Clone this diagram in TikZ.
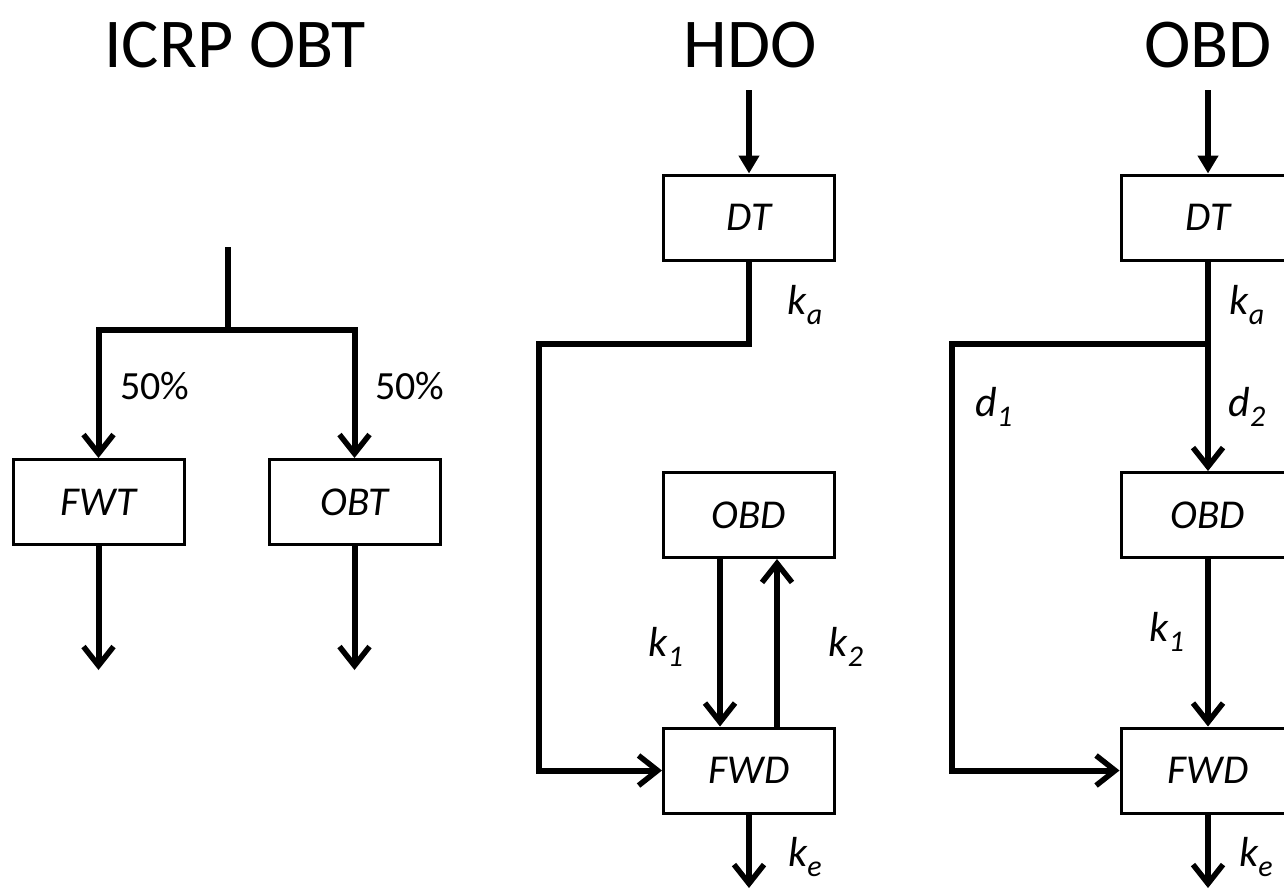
\documentclass[tikz,border=0pt]{standalone}
\usepackage{fontspec}
\setmainfont{Carlito}
\usetikzlibrary{arrows.meta}
\newcommand\mysb[1]{\raisebox{-0.22em}{\fontsize{30}{30}\selectfont #1}}
\begin{document}
\begin{tikzpicture}[x=1pt,y=-1pt,
  box/.style={draw,line width=3pt,minimum width=171pt,minimum height=85pt,inner sep=0pt,font=\fontsize{41}{43}\selectfont\itshape},
  flow/.style={line width=6pt,line join=miter,-{Straight Barb[length=19pt,width=30pt,line width=5.5pt]}},
  feed/.style={line width=6pt,-{Triangle[length=18pt,width=20pt]}},
  wire/.style={line width=6pt,line join=miter},
  lab/.style={font=\fontsize{42}{44}\selectfont\itshape,inner sep=0pt},
  pct/.style={font=\fontsize{40}{42}\selectfont,inner sep=0pt},
  ttl/.style={font=\fontsize{70}{72}\selectfont,inner sep=0pt}]
\useasboundingbox (0,0) rectangle (1284,894);
% titles
\node[ttl] (t1) at (235,45) {ICRP OBT};
\node[ttl] (t2) at (750,45) {HDO};
\node[ttl] (t3) at (1208,45) {OBD};
% left panel
\node[box] (fwt) at (98.5,502) {FWT};
\node[box] (obt) at (354.5,502) {OBT};
\coordinate (ltop) at (228,247);
\coordinate (lsplit) at (228,330);
\coordinate (ll) at (98.5,330);
\coordinate (lr) at (354.5,330);
\coordinate (lout1) at (98.5,670);
\coordinate (lout2) at (354.5,670);
\draw[wire] (ltop) -- (lsplit);
\draw[flow] (lsplit) -- (ll) -- (fwt.north);
\draw[flow] (lsplit) -- (lr) -- (obt.north);
\draw[flow] (fwt.south) -- (lout1);
\draw[flow] (obt.south) -- (lout2);
\node[pct] (p1) at (155,386) {50\%};
\node[pct] (p2) at (410,386) {50\%};
% middle panel
\node[box] (dt1) at (749,217.5) {DT};
\node[box] (obd1) at (749,515) {OBD};
\node[box] (fwd1) at (749,770.5) {FWD};
\coordinate (min) at (749,90);
\coordinate (mk) at (749,344);
\coordinate (mc1) at (539,344);
\coordinate (mc2) at (539,770.5);
\coordinate (mout) at (749,888);
\draw[feed] (min) -- (dt1.north);
\draw[flow] (dt1.south) -- (mk) -- (mc1) -- (mc2) -- (fwd1.west);
\draw[flow] ([xshift=-29pt]obd1.south) -- ([xshift=-29pt]fwd1.north);
\draw[flow] ([xshift=28pt]fwd1.north) -- ([xshift=28pt]obd1.south);
\draw[flow] (fwd1.south) -- (mout);
\node[lab] (ka1) at (805,305) {k\mysb{a}};
\node[lab] (k11) at (666,647) {k\mysb{1}};
\node[lab] (k21) at (846,647) {k\mysb{2}};
\node[lab] (ke1) at (805,857) {k\mysb{e}};
% right panel
\node[box,minimum width=174pt] (dt2) at (1208,217.5) {DT};
\node[box,minimum width=174pt] (obd2) at (1208,515) {OBD};
\node[box,minimum width=174pt] (fwd2) at (1208,770.5) {FWD};
\coordinate (rin) at (1208,90);
\coordinate (rk) at (1208,344);
\coordinate (rc1) at (952,344);
\coordinate (rc2) at (952,770.5);
\coordinate (rout) at (1208,888);
\draw[feed] (rin) -- (dt2.north);
\draw[wire] (dt2.south) -- (rk);
\draw[flow] (rk) -- (rc1) -- (rc2) -- (fwd2.west);
\draw[flow] (rk) -- (obd2.north);
\draw[flow] (obd2.south) -- (fwd2.north);
\draw[flow] (fwd2.south) -- (rout);
\node[lab] (ka2) at (1247,305) {k\mysb{a}};
\node[lab] (d1) at (994,407) {d\mysb{1}};
\node[lab] (d2) at (1247,407) {d\mysb{2}};
\node[lab] (k12) at (1167,632) {k\mysb{1}};
\node[lab] (ke2) at (1256,857) {k\mysb{e}};
\end{tikzpicture}
\end{document}
